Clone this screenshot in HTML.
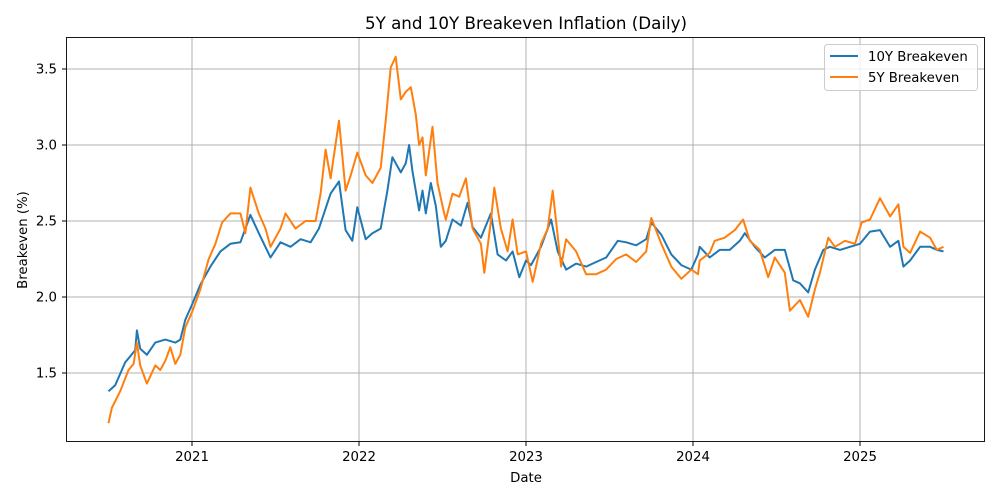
<!DOCTYPE html>
<html><head><meta charset="utf-8"><style>
body{margin:0;background:#fff;}
svg{display:block;font-family:"DejaVu Sans","Liberation Sans",sans-serif;}
</style></head><body>
<svg id="chart" width="1000" height="500" xmlns="http://www.w3.org/2000/svg">
<rect width="1000" height="500" fill="#fff"/>
<text x="526" y="29" text-anchor="middle" font-size="16.7" fill="#000">5Y and 10Y Breakeven Inflation (Daily)</text>
<g id="grid"></g>
<g id="series"></g>
<rect x="66.5" y="37.5" width="918" height="404" fill="none" stroke="#000" stroke-width="0.9"/>
<g id="ticks"></g>
<text x="526" y="482" text-anchor="middle" font-size="13.3">Date</text>
<text transform="translate(27,240) rotate(-90)" text-anchor="middle" font-size="13.3">Breakeven (%)</text>
<g>
<rect x="824.5" y="44.5" width="153" height="46" rx="3" fill="#fff" fill-opacity="0.8" stroke="#ccc"/>
<line x1="830" y1="56" x2="858" y2="56" stroke="#1f77b4" stroke-width="2"/>
<text x="868" y="61" font-size="13.3">10Y Breakeven</text>
<line x1="830" y1="77" x2="858" y2="77" stroke="#ff7f0e" stroke-width="2"/>
<text x="868" y="82" font-size="13.3">5Y Breakeven</text>
</g>
</svg>
<script>
const tenDates=[2020.50,2020.54,2020.60,2020.66,2020.67,2020.69,2020.73,2020.78,2020.84,2020.90,2020.93,2020.96,2021.00,2021.05,2021.11,2021.17,2021.23,2021.29,2021.35,2021.40,2021.47,2021.53,2021.59,2021.65,2021.71,2021.76,2021.83,2021.88,2021.92,2021.96,2021.99,2022.04,2022.08,2022.13,2022.17,2022.20,2022.25,2022.28,2022.30,2022.32,2022.36,2022.38,2022.40,2022.43,2022.46,2022.49,2022.52,2022.56,2022.61,2022.65,2022.68,2022.73,2022.79,2022.83,2022.88,2022.92,2022.96,2023.00,2023.03,2023.09,2023.15,2023.19,2023.24,2023.30,2023.36,2023.42,2023.48,2023.55,2023.60,2023.66,2023.72,2023.75,2023.81,2023.87,2023.93,2023.99,2024.03,2024.04,2024.10,2024.16,2024.22,2024.28,2024.31,2024.37,2024.43,2024.49,2024.55,2024.60,2024.64,2024.69,2024.73,2024.78,2024.82,2024.88,2024.94,2025.00,2025.06,2025.12,2025.18,2025.23,2025.26,2025.30,2025.36,2025.42,2025.46,2025.50];
const tenValues=[1.38,1.42,1.57,1.65,1.78,1.66,1.62,1.70,1.72,1.70,1.72,1.85,1.95,2.08,2.20,2.30,2.35,2.36,2.54,2.42,2.26,2.36,2.33,2.38,2.36,2.45,2.68,2.76,2.44,2.37,2.59,2.38,2.42,2.45,2.70,2.92,2.82,2.88,3.00,2.83,2.57,2.70,2.55,2.75,2.60,2.33,2.37,2.51,2.47,2.62,2.46,2.39,2.55,2.28,2.24,2.30,2.13,2.24,2.21,2.33,2.51,2.30,2.18,2.22,2.20,2.23,2.26,2.37,2.36,2.34,2.38,2.49,2.41,2.28,2.21,2.18,2.28,2.33,2.26,2.31,2.31,2.37,2.42,2.33,2.26,2.31,2.31,2.11,2.09,2.03,2.18,2.31,2.33,2.31,2.33,2.35,2.43,2.44,2.33,2.37,2.20,2.24,2.33,2.33,2.31,2.30];
const fiveDates=[2020.50,2020.52,2020.57,2020.62,2020.65,2020.67,2020.69,2020.73,2020.78,2020.81,2020.84,2020.87,2020.90,2020.93,2020.96,2021.00,2021.05,2021.10,2021.14,2021.18,2021.23,2021.29,2021.32,2021.35,2021.40,2021.44,2021.47,2021.53,2021.56,2021.62,2021.68,2021.74,2021.77,2021.80,2021.83,2021.88,2021.92,2021.95,2021.99,2022.04,2022.08,2022.13,2022.16,2022.19,2022.22,2022.25,2022.28,2022.31,2022.34,2022.36,2022.38,2022.40,2022.44,2022.47,2022.51,2022.52,2022.56,2022.60,2022.64,2022.68,2022.73,2022.75,2022.79,2022.81,2022.85,2022.89,2022.92,2022.95,2023.00,2023.04,2023.09,2023.13,2023.16,2023.21,2023.24,2023.30,2023.36,2023.42,2023.48,2023.54,2023.60,2023.66,2023.72,2023.75,2023.81,2023.87,2023.93,2023.99,2024.03,2024.04,2024.10,2024.13,2024.19,2024.25,2024.30,2024.34,2024.40,2024.45,2024.49,2024.55,2024.58,2024.64,2024.69,2024.73,2024.76,2024.81,2024.85,2024.91,2024.97,2025.01,2025.06,2025.12,2025.18,2025.23,2025.26,2025.30,2025.36,2025.42,2025.46,2025.50];
const fiveValues=[1.17,1.27,1.38,1.52,1.56,1.70,1.55,1.43,1.55,1.52,1.58,1.67,1.56,1.62,1.80,1.90,2.05,2.25,2.35,2.49,2.55,2.55,2.42,2.72,2.55,2.45,2.33,2.45,2.55,2.45,2.50,2.50,2.68,2.97,2.78,3.16,2.70,2.80,2.95,2.80,2.75,2.85,3.16,3.51,3.58,3.30,3.35,3.38,3.20,3.00,3.05,2.80,3.12,2.75,2.55,2.51,2.68,2.66,2.78,2.45,2.35,2.16,2.50,2.72,2.45,2.30,2.51,2.28,2.30,2.10,2.35,2.45,2.70,2.20,2.38,2.30,2.15,2.15,2.18,2.25,2.28,2.23,2.30,2.52,2.35,2.20,2.12,2.18,2.15,2.24,2.29,2.37,2.39,2.44,2.51,2.37,2.31,2.13,2.26,2.16,1.91,1.98,1.87,2.05,2.16,2.39,2.33,2.37,2.35,2.49,2.51,2.65,2.53,2.61,2.33,2.29,2.43,2.39,2.31,2.33];
const yTicks=[1.5,2.0,2.5,3.0,3.5];
const xTicks=[2021,2022,2023,2024,2025];

const NS='http://www.w3.org/2000/svg';
function xScale(t){return 192+(t-2021)*167;}
function yScale(v){return 297-(v-2)*152;}
const grid=document.getElementById('grid'),ticks=document.getElementById('ticks'),series=document.getElementById('series');
function mk(tag,attrs,parent){const e=document.createElementNS(NS,tag);for(const k in attrs)e.setAttribute(k,attrs[k]);parent.appendChild(e);return e;}
yTicks.forEach(v=>{
  const y=yScale(v);
  const g=mk('line',{x1:66,x2:985,y1:y,y2:y,stroke:'#b0b0b0','stroke-width':1},grid);
  
  
  const t=mk('line',{x1:62,x2:66,y1:y,y2:y,stroke:'#000'},ticks);
  
  
  const l=mk('text',{x:57,y:y+4.5,'text-anchor':'end','font-size':13.3},ticks);
  l.textContent=v.toFixed(1);
  
  
});
xTicks.forEach(v=>{
  const x=xScale(v);
  const g=mk('line',{x1:x,x2:x,y1:37,y2:442,stroke:'#b0b0b0','stroke-width':1},grid);
  
  
  const t=mk('line',{x1:x,x2:x,y1:442,y2:446,stroke:'#000'},ticks);
  
  
  const l=mk('text',{x:x,y:461,'text-anchor':'middle','font-size':13.3},ticks);
  l.textContent=String(v);
  
  
});
function draw(dates,vals,color,name){
  const d=dates.map((t,i)=>(i?'L':'M')+xScale(t).toFixed(1)+','+yScale(vals[i]).toFixed(1)).join(' ');
  const p=mk('path',{d:d,fill:'none',stroke:color,'stroke-width':2,'stroke-linejoin':'round'},series);
  
  
}
draw(tenDates,tenValues,'#1f77b4','line-10y-breakeven');
draw(fiveDates,fiveValues,'#ff7f0e','line-5y-breakeven');
</script>
</body></html>
